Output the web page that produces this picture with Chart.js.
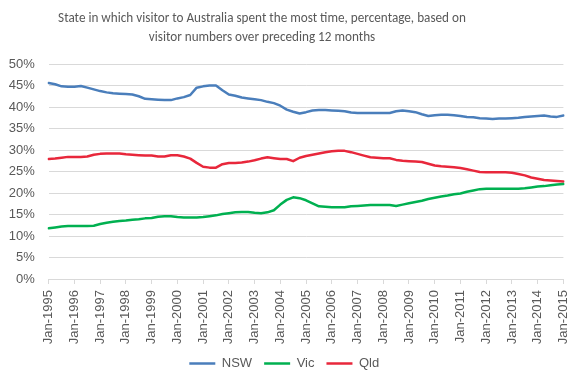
<!DOCTYPE html>
<html>
<head>
<meta charset="utf-8">
<script src="https://cdn.jsdelivr.net/npm/chart.js@4/dist/chart.umd.min.js"></script>
<style>
  html, body { margin: 0; padding: 0; background: #fff; }
  #wrap { width: 585px; height: 383px; position: relative; }
</style>
</head>
<body>
<div id="wrap"><canvas id="c" width="585" height="383"></canvas></div>
<script>
// ---- Data (quarterly readings, Jan-1995 .. Jan-2015) ----
const titleLines = ['State in which visitor to Australia spent the most time, percentage, based on', 'visitor numbers over preceding 12 months'];
const years = [1995,1996,1997,1998,1999,2000,2001,2002,2003,2004,2005,2006,2007,2008,2009,2010,2011,2012,2013,2014,2015];
const quarterMonths = ['Jan','Apr','Jul','Oct'];
const seriesNames = ['NSW','Vic','Qld'];
const seriesColors = ['#4a7ebb','#00b050','#e8273b'];

const nsw = [
  45.6,45.3,44.8,44.7, 44.7,44.9,44.5,44.1, 43.7,43.4,43.2,43.1, 43.0,42.9,42.5,41.9,
  41.8,41.7,41.6,41.6, 42.0,42.3,42.8,44.5, 44.8,45.0,45.0,43.9, 42.9,42.6,42.2,42.0,
  41.8,41.6,41.2,40.9, 40.3,39.4,38.9,38.5, 38.8,39.2,39.3,39.3, 39.2,39.1,39.0,38.7,
  38.6,38.6,38.6,38.6, 38.6,38.6,39.0,39.2, 39.0,38.8,38.3,37.9, 38.1,38.2,38.2,38.1,
  37.9,37.7,37.6,37.4, 37.3,37.2,37.3,37.3, 37.4,37.5,37.7,37.8, 37.9,38.0,37.8,37.7,
  38.0
];
const vic = [
  11.8,12.0,12.2,12.3, 12.3,12.3,12.3,12.4, 12.8,13.1,13.3,13.5, 13.6,13.8,13.9,14.1,
  14.2,14.5,14.6,14.6, 14.4,14.3,14.3,14.3, 14.4,14.6,14.8,15.1, 15.3,15.5,15.6,15.6,
  15.4,15.3,15.5,16.0, 17.3,18.4,19.0,18.8, 18.3,17.6,16.9,16.8, 16.7,16.7,16.7,16.9,
  17.0,17.1,17.2,17.2, 17.2,17.2,17.0,17.3, 17.6,17.9,18.2,18.6, 18.9,19.2,19.4,19.7,
  19.9,20.3,20.6,20.9, 21.0,21.0,21.0,21.0, 21.0,21.0,21.1,21.3, 21.5,21.6,21.8,22.0,
  22.1
];
const qld = [
  27.9,28.0,28.2,28.4, 28.4,28.4,28.5,28.9, 29.1,29.2,29.2,29.2, 29.0,28.9,28.8,28.7,
  28.7,28.5,28.5,28.8, 28.8,28.5,28.0,27.0, 26.1,25.9,25.9,26.7, 27.0,27.0,27.1,27.3,
  27.6,28.0,28.3,28.1, 27.9,27.9,27.4,28.2, 28.6,28.9,29.2,29.5, 29.7,29.8,29.8,29.5,
  29.1,28.7,28.3,28.2, 28.1,28.1,27.7,27.5, 27.4,27.3,27.2,26.8, 26.4,26.2,26.1,26.0,
  25.8,25.5,25.2,24.9, 24.8,24.8,24.8,24.8, 24.7,24.4,24.1,23.6, 23.3,23.0,22.9,22.8,
  22.7
];
const yTicks = [0,5,10,15,20,25,30,35,40,45,50];

// ---- Build category labels ----
const labels = [];
years.forEach((y, i) => {
  if (i < years.length - 1) quarterMonths.forEach(m => labels.push(m + '-' + y));
  else labels.push('Jan-' + y);
});

const TITLE_FONT = "Carlito, Lato, 'Open Sans', sans-serif";
const AXIS_FONT = "'Liberation Sans', Arial, sans-serif";
const GREY = '#595959';

const titlePlugin = {
  id: 'customTitle',
  afterDraw(chart) {
    const ctx = chart.ctx;
    ctx.save();
    ctx.font = "13.2px " + TITLE_FONT;
    ctx.fillStyle = GREY;
    ctx.textAlign = 'center';
    ctx.textBaseline = 'middle';
    ctx.fillText(titleLines[0], 262, 19);
    ctx.fillText(titleLines[1], 262, 38);
    ctx.restore();
  }
};

new Chart(document.getElementById('c'), {
  type: 'line',
  data: {
    labels: labels,
    datasets: [
      { label: seriesNames[0], data: nsw, borderColor: seriesColors[0], backgroundColor: seriesColors[0] },
      { label: seriesNames[1], data: vic, borderColor: seriesColors[1], backgroundColor: seriesColors[1] },
      { label: seriesNames[2], data: qld, borderColor: seriesColors[2], backgroundColor: seriesColors[2] }
    ]
  },
  options: {
    responsive: false,
    animation: false,
    devicePixelRatio: 1,
    elements: {
      line: { borderWidth: 2.5, tension: 0, borderCapStyle: 'round', borderJoinStyle: 'round' },
      point: { radius: 0, hoverRadius: 0 }
    },
    layout: { padding: { top: 64, right: 16.5, bottom: 3, left: 0 } },
    plugins: {
      title: { display: false },
      tooltip: { enabled: false },
      legend: {
        position: 'bottom',
        labels: {
          boxWidth: 26,
          boxHeight: 2.5,
          color: GREY,
          font: { family: AXIS_FONT, size: 13 },
          padding: 12,
          generateLabels: (chart) => chart.data.datasets.map((ds, i) => ({
            text: ds.label,
            fillStyle: seriesColors[i],
            strokeStyle: seriesColors[i],
            lineWidth: 0,
            fontColor: GREY,
            hidden: false,
            datasetIndex: i
          }))
        }
      }
    },
    scales: {
      x: {
        type: 'category',
        offset: false,
        afterFit: (scale) => { scale.height = 66; },
        grid: {
          drawOnChartArea: false,
          drawTicks: true,
          tickLength: 5,
          tickColor: (ctx) => (ctx.index % 4 === 0 ? '#d9d9d9' : 'rgba(0,0,0,0)')
        },
        border: { display: true, color: '#d9d9d9' },
        ticks: {
          autoSkip: false,
          maxRotation: 90,
          minRotation: 90,
          padding: 6,
          color: GREY,
          font: { family: AXIS_FONT, size: 13 },
          callback: function (value, index) { return index % 4 === 0 ? this.getLabelForValue(value) : ''; }
        }
      },
      y: {
        min: 0,
        max: 50,
        afterBuildTicks: (scale) => { scale.ticks = yTicks.map(v => ({ value: v })); },
        afterFit: (scale) => { scale.width = 48.7; },
        grid: { color: '#d9d9d9', drawTicks: false },
        border: { display: false },
        ticks: {
          padding: 14,
          color: GREY,
          font: { family: AXIS_FONT, size: 13 },
          callback: (v) => v + '%'
        }
      }
    }
  },
  plugins: [titlePlugin]
});
</script>
</body>
</html>
